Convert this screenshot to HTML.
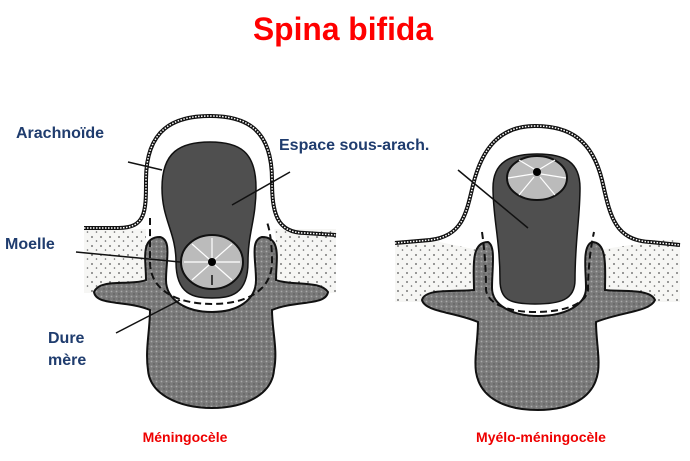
<!DOCTYPE html>
<html><head><meta charset="utf-8"><style>
html,body{margin:0;padding:0;background:#fff;width:690px;height:461px;overflow:hidden}
svg{display:block}
.lb{font-family:"Liberation Sans",sans-serif;font-weight:bold;fill:#1f3c6e;font-size:16px}
.rd{font-family:"Liberation Sans",sans-serif;font-weight:bold;fill:#e00;font-size:14px}
</style></head><body>
<svg width="690" height="461" viewBox="0 0 690 461">
<defs>
<pattern id="dots" width="9" height="9" patternUnits="userSpaceOnUse">
<rect width="9" height="9" fill="#f6f6f4"/><circle cx="2" cy="3" r="0.9" fill="#555"/><circle cx="6.5" cy="7" r="0.8" fill="#666"/>
</pattern>
<pattern id="bone" width="5" height="5" patternUnits="userSpaceOnUse">
<rect width="5" height="5" fill="#7a7a7a"/><circle cx="1.5" cy="1.5" r="0.9" fill="#aaa"/><circle cx="4" cy="4" r="0.7" fill="#555"/>
</pattern>
</defs>
<text x="343" y="40" text-anchor="middle" font-family="Liberation Sans,sans-serif" font-weight="bold" font-size="32" fill="#ff0000" textLength="180" lengthAdjust="spacingAndGlyphs">Spina bifida</text>

<!-- LEFT -->
<g stroke="#111" stroke-width="2">
<rect x="84" y="229" width="252" height="64" fill="url(#dots)" stroke="none"/>
<path d="M146,228 C146,212 146,200 146,180 C146,128 175,116 210,116 C245,116 272,128 272,180 C272,205 273,225 276,240 L262,300 L160,300 L146,240 Z" fill="#fff" stroke="none"/>
<path d="M84,228 L118,228 C146,228 146,212 146,180 C146,128 175,116 210,116 C245,116 272,128 272,180 C272,212 276,233 305,233 L336,235" fill="none" stroke-width="4"/>
<path d="M84,228 L118,228 C146,228 146,212 146,180 C146,128 175,116 210,116 C245,116 272,128 272,180 C272,212 276,233 305,233 L336,235" fill="none" stroke="#fff" stroke-width="1.5" stroke-dasharray="1.5 1.5"/>
<path d="M160,237 C140,237 146,260 146,280 C130,286 100,278 94,292 C96,306 126,300 150,310 C150,330 145,350 148,370 C150,395 180,408 212,408 C244,408 272,395 274,370 C278,350 272,330 272,310 C296,300 326,306 328,292 C320,280 292,286 276,280 C276,260 282,237 262,237 C250,240 256,260 256,280 C256,300 238,312 212,312 C186,312 166,300 166,280 C166,260 172,240 160,237 Z" fill="url(#bone)"/>
<path d="M162,188 C162,152 180,142 210,142 C240,142 256,152 256,188 C256,220 248,232 248,262 C248,295 230,298 212,298 C194,298 176,295 176,262 C176,232 162,220 162,188 Z" fill="#4f4f4f" stroke-width="1.5"/>
<path d="M150,218 C150,240 150,250 150,262 C150,292 180,304 212,304 C244,304 272,292 272,262 C272,245 270,228 266,220" fill="none" stroke-width="2" stroke-dasharray="7 4"/>
<ellipse cx="212" cy="262" rx="31" ry="27" fill="#bbb"/>
<path d="M212,285 L212,275" stroke-width="1.5"/>
<circle cx="212" cy="262" r="4" fill="#000" stroke="none"/>
<g stroke="#fff" stroke-width="1.2">
<line x1="216" y1="262" x2="240" y2="262"/><line x1="208" y1="262" x2="184" y2="262"/>
<line x1="212" y1="258" x2="212" y2="238"/><line x1="215" y1="259" x2="232" y2="244"/><line x1="209" y1="259" x2="192" y2="244"/>
<line x1="215" y1="265" x2="232" y2="280"/><line x1="209" y1="265" x2="192" y2="280"/>
</g>
<line x1="128" y1="162" x2="162" y2="170" stroke-width="1.5"/>
<line x1="290" y1="172" x2="232" y2="205" stroke-width="1.5"/>
<line x1="76" y1="252" x2="180" y2="262" stroke-width="1.5"/>
<line x1="116" y1="333" x2="180" y2="300" stroke-width="1.5"/>
</g>

<!-- RIGHT -->
<g stroke="#111" stroke-width="2">
<rect x="395" y="240" width="285" height="62" fill="url(#dots)" stroke="none"/>
<path d="M430,240 C462,236 466,215 473,185 C482,148 500,126 535,126 C570,126 592,140 602,180 C610,215 614,240 650,242 L598,250 L590,305 L484,305 L478,250 Z" fill="#fff" stroke="none"/>
<path d="M395,243 L430,240 C462,236 466,215 473,185 C482,148 500,126 535,126 C570,126 592,140 602,180 C610,215 614,240 650,242 L680,245" fill="none" stroke-width="4"/>
<path d="M395,243 L430,240 C462,236 466,215 473,185 C482,148 500,126 535,126 C570,126 592,140 602,180 C610,215 614,240 650,242 L680,245" fill="none" stroke="#fff" stroke-width="1.5" stroke-dasharray="1.5 1.5"/>
<path d="M488,242 C470,242 474,270 474,290 C455,292 425,288 422,300 C425,312 455,312 478,322 C478,340 474,358 476,372 C480,398 505,410 538,410 C570,410 594,398 598,372 C600,358 596,340 596,322 C620,312 650,312 655,300 C650,288 620,292 605,290 C605,270 608,242 592,242 C582,246 586,270 586,288 C586,305 565,316 538,316 C512,316 492,305 492,288 C492,268 496,246 488,242 Z" fill="url(#bone)"/>
<path d="M493,188 C493,162 510,154 537,154 C565,154 580,162 580,188 C580,218 575,240 575,280 C575,300 560,304 535,304 C510,304 500,300 500,280 C500,240 493,218 493,188 Z" fill="#4f4f4f" stroke-width="1.5"/>
<path d="M482,232 C486,260 486,280 486,290 C488,305 510,312 535,312 C562,312 586,305 588,290 C588,272 590,250 594,232" fill="none" stroke-width="2" stroke-dasharray="7 4"/>
<ellipse cx="537" cy="178" rx="30" ry="22" fill="#bbb"/>
<circle cx="537" cy="172" r="4" fill="#000" stroke="none"/>
<g stroke="#fff" stroke-width="1.2">
<line x1="541" y1="174" x2="566" y2="178"/><line x1="533" y1="174" x2="508" y2="178"/>
<line x1="540" y1="177" x2="555" y2="195"/><line x1="534" y1="177" x2="519" y2="195"/>
<line x1="540" y1="169" x2="555" y2="160"/><line x1="534" y1="169" x2="519" y2="160"/>
</g>
<line x1="458" y1="170" x2="528" y2="228" stroke-width="1.5"/>
</g>

<text class="lb" x="16" y="138">Arachnoïde</text>
<text class="lb" x="279" y="150">Espace sous-arach.</text>
<text class="lb" x="5" y="249">Moelle</text>
<text class="lb" x="48" y="343">Dure</text>
<text class="lb" x="48" y="365">mère</text>
<text class="rd" x="185" y="442" text-anchor="middle">Méningocèle</text>
<text class="rd" x="541" y="442" text-anchor="middle">Myélo-méningocèle</text>
</svg>
</body></html>
